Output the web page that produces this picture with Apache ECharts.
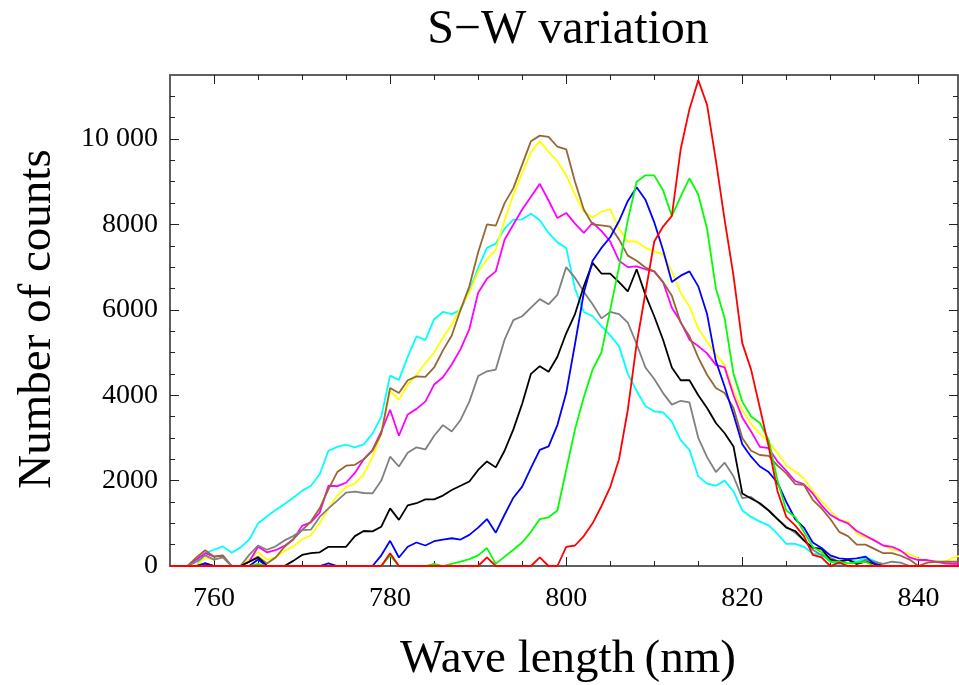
<!DOCTYPE html>
<html>
<head>
<meta charset="utf-8">
<script src="https://cdn.jsdelivr.net/npm/echarts@6/dist/echarts.min.js"></script>
<style>
html,body{margin:0;padding:0;background:#fff;}
#chart{width:959px;height:685px;}
</style>
</head>
<body>
<div id="chart"></div>
<script>
// Wavelength samples (nm)
const wavelengths = [
755,756,757,758,759,760,761,762,763,764,
765,766,767,768,769,770,771,772,773,774,
775,776,777,778,779,780,781,782,783,784,
785,786,787,788,789,790,791,792,793,794,
795,796,797,798,799,800,801,802,803,804,
805,806,807,808,809,810,811,812,813,814,
815,816,817,818,819,820,821,822,823,824,
825,826,827,828,829,830,831,832,833,834,
835,836,837,838,839,840,841,842,843,844,
845];

const cyanCounts = [
0,0,0,0,300,380,460,310,430,620,
1000,1160,1310,1450,1600,1760,1880,2150,2700,2790,
2840,2780,2850,3100,3500,4460,4360,4900,5380,5290,
5780,5950,5900,6000,6450,6980,7450,7550,7900,8110,
8120,8250,8100,7800,7580,7450,6500,5950,5850,5620,
5400,5150,4500,4100,3750,3620,3600,3380,2950,2720,
2100,1930,1880,2000,1750,1300,1150,1040,950,750,
520,520,450,290,260,100,50,150,100,200,
120,0,0,0,0,0,0,0,0,0,
0];

const yellowCounts = [
0,0,0,0,200,150,200,0,0,150,
330,150,200,350,460,620,720,1000,1350,1650,
1850,1930,2150,2550,3100,4100,3890,4250,4480,4750,
5000,5350,5650,6050,6400,6900,7180,7400,8100,8700,
9200,9700,9950,9700,9480,9150,8700,8300,8160,8300,
8350,7900,7600,7600,7450,7370,7300,6900,6400,6080,
5560,5250,4950,4700,4100,3650,3330,3100,2900,2650,
2350,2220,2050,1750,1520,1300,1080,1040,760,670,
600,480,390,350,280,180,120,100,100,200,
250];

const brownCounts = [
0,0,0,200,370,220,250,0,0,100,
220,60,200,450,630,840,1040,1350,1800,2200,
2350,2370,2500,2700,3100,4170,4050,4350,4440,4430,
4650,5050,5400,6000,6550,7350,8000,7970,8500,8850,
9400,9950,10080,10050,9820,9760,9000,8350,8000,7980,
7950,7650,7270,7150,6990,6900,6650,6330,5700,5380,
4880,4480,4170,4050,3700,3000,2700,2600,2580,2350,
2170,1920,1900,1550,1350,1100,800,700,500,500,
400,300,300,240,150,0,80,100,100,100,
100];

const magentaCounts = [
0,0,0,150,300,220,240,0,0,100,
450,320,370,470,620,940,1020,1250,1880,1870,
1950,2180,2500,2720,3150,3660,3050,3550,3680,3850,
4250,4420,4720,5080,5550,6400,6730,6900,7640,8000,
8350,8650,8950,8560,8150,8270,8020,7800,8040,7850,
7600,7150,7000,7020,6950,6900,6650,6050,5720,5300,
5150,4980,4710,4650,4000,3480,3150,2790,2760,2450,
2230,1990,1910,1700,1420,1200,1080,1000,820,710,
600,480,450,360,200,140,140,100,60,50,
50];

const grayCounts = [
0,0,0,100,250,150,200,0,0,260,
480,380,460,600,700,840,850,1150,1350,1530,
1720,1740,1710,1700,2000,2560,2330,2650,2780,2730,
3050,3300,3150,3420,3850,4450,4560,4600,5300,5760,
5850,6050,6250,6130,6350,7000,6750,6420,6130,5800,
5950,5900,5700,5200,4650,4380,4050,3780,3870,3830,
3000,2550,2200,2420,2100,1590,1620,1450,1300,1100,
920,780,600,380,250,200,100,150,50,150,
100,50,100,80,0,0,0,0,0,0,
0];

const blackCounts = [
0,0,0,0,60,0,0,0,0,100,
200,0,0,0,120,260,300,320,450,450,
450,700,820,810,920,1350,1080,1420,1470,1560,
1560,1650,1780,1880,1980,2250,2450,2310,2700,3200,
3800,4500,4680,4550,4900,5450,5900,6550,7100,6850,
6850,6650,6430,6950,6350,5850,5300,4650,4350,4350,
4000,3700,3350,3110,2800,1700,1580,1470,1300,1100,
900,820,600,430,400,150,100,150,50,100,
50,0,0,0,0,0,0,0,0,0,
0];

const blueCounts = [
0,0,0,0,60,0,0,0,0,0,
150,0,0,0,0,0,0,0,60,0,
0,0,0,0,250,590,200,450,550,480,
580,620,650,620,730,900,1100,780,1200,1600,
1860,2300,2720,2800,3300,4050,5200,6400,7150,7450,
7700,8080,8550,8870,8580,8050,7400,6650,6800,6900,
6550,5900,4800,4200,3550,2850,2560,2330,2200,1950,
1500,1100,900,550,420,250,180,160,180,220,
50,0,0,0,0,0,0,0,0,0,
0];

const greenCounts = [
0,0,0,0,0,0,0,0,0,0,
50,0,0,0,0,0,0,0,0,0,
0,0,0,0,0,250,0,0,0,0,
50,0,50,100,160,250,420,50,220,380,
550,800,1100,1140,1300,2250,3200,3950,4600,5000,
6000,7000,8100,9000,9150,9150,8800,8200,8650,9080,
8700,7900,6500,5800,4500,3850,3500,3350,2950,2000,
1300,1150,800,450,320,100,100,60,80,100,
0,0,0,0,0,0,0,0,0,0,
0];

const redCounts = [
0,0,0,0,0,0,0,0,0,0,
0,0,0,0,0,0,0,0,0,0,
0,0,0,0,0,300,0,0,0,0,
0,0,0,0,0,0,200,0,0,0,
0,0,200,0,0,450,480,700,1000,1400,
1850,2500,3660,5200,6400,7600,7950,8200,9760,10700,
11380,10800,9500,8100,6800,5220,4600,3700,2800,1750,
1150,950,700,260,200,0,80,0,0,0,
0,0,0,0,0,0,0,0,0,0,
0];

// Tick positions
const xMajorTicks = [760, 780, 800, 820, 840];
const xMinorTicks = [765,770,775,785,790,795,805,810,815,825,830,835];
const yMajorTicks = [0, 2000, 4000, 6000, 8000, 10000];
const yMinorTicks = [500,1000,1500,2500,3000,3500,4500,5000,5500,6500,7000,7500,8500,9000,9500,10500,11000];

const seriesDefs = [
  {name: 'cyan', color: '#00FFFF', values: cyanCounts},
  {name: 'yellow', color: '#FFFF00', values: yellowCounts},
  {name: 'magenta', color: '#FF00FF', values: magentaCounts},
  {name: 'brown', color: '#996633', values: brownCounts},
  {name: 'gray', color: '#808080', values: grayCounts},
  {name: 'black', color: '#000000', values: blackCounts},
  {name: 'blue', color: '#0000FF', values: blueCounts},
  {name: 'green', color: '#00FF00', values: greenCounts},
  {name: 'red', color: '#FF0000', values: redCounts}
];

const FONT = '"Liberation Serif", "Times New Roman", serif';
const X_MIN = 755, X_MAX = 844.5, Y_MIN = 0, Y_MAX = 11500;
const frameColor = '#555555';
const tickColor = '#222222';

function xAx(pos, ticks, len, labels) {
  return {
    type: 'value', position: pos, min: X_MIN, max: X_MAX,
    axisLine: {show: true, onZero: false, lineStyle: {color: frameColor, width: 1.5}},
    axisTick: {show: true, inside: true, length: len, customValues: ticks, lineStyle: {color: tickColor, width: 1}},
    axisLabel: labels ? {show: true, customValues: ticks, margin: 19, fontFamily: FONT, fontSize: 28, color: '#000'} : {show: false},
    splitLine: {show: false}
  };
}
function yAx(pos, ticks, len, labels) {
  return {
    type: 'value', position: pos, min: Y_MIN, max: Y_MAX,
    axisLine: {show: true, onZero: false, lineStyle: {color: frameColor, width: 1.5}},
    axisTick: {show: true, inside: true, length: len, customValues: ticks, lineStyle: {color: tickColor, width: 1}},
    axisLabel: labels ? {show: true, customValues: ticks, margin: 12, fontFamily: FONT, fontSize: 28, color: '#000',
      formatter: function (v) { return v >= 10000 ? String(v).replace(/(\d{2})(\d{3})/, '$1 $2') : String(v); }} : {show: false},
    splitLine: {show: false}
  };
}

const chart = echarts.init(document.getElementById('chart'), null, {renderer: 'canvas'});
chart.setOption({
  animation: false,
  backgroundColor: '#ffffff',
  grid: {left: 170, right: 1, top: 75, bottom: 119, containLabel: false},
  xAxis: [
    xAx('bottom', xMajorTicks, 9, true),
    xAx('bottom', xMinorTicks, 5, false),
    xAx('top', xMajorTicks, 9, false),
    xAx('top', xMinorTicks, 5, false)
  ],
  yAxis: [
    yAx('left', yMajorTicks, 9, true),
    yAx('left', yMinorTicks, 5, false),
    yAx('right', yMajorTicks, 9, false),
    yAx('right', yMinorTicks, 5, false)
  ],
  graphic: [
    {type: 'text', x: 568, y: 30,
      style: {text: 'S\u2212W variation', font: '48px ' + FONT, fill: '#000', align: 'center', verticalAlign: 'middle'}},
    {type: 'text', x: 38, y: 319, rotation: Math.PI / 2,
      style: {text: 'Number of counts', font: '47px ' + FONT, fill: '#000', align: 'center', verticalAlign: 'middle'}},
    {type: 'text', x: 568, y: 660,
      style: {text: 'Wave length\u2009(nm)', font: '47px ' + FONT, fill: '#000', align: 'center', verticalAlign: 'middle'}}
  ],
  series: seriesDefs.map(function (s) {
    return {
      name: s.name, type: 'line', xAxisIndex: 0, yAxisIndex: 0,
      showSymbol: false, symbol: 'none', clip: true,
      lineStyle: {color: s.color, width: 1.8},
      data: wavelengths.map(function (w, i) { return [w, s.values[i]]; })
    };
  })
});
</script>
</body>
</html>
